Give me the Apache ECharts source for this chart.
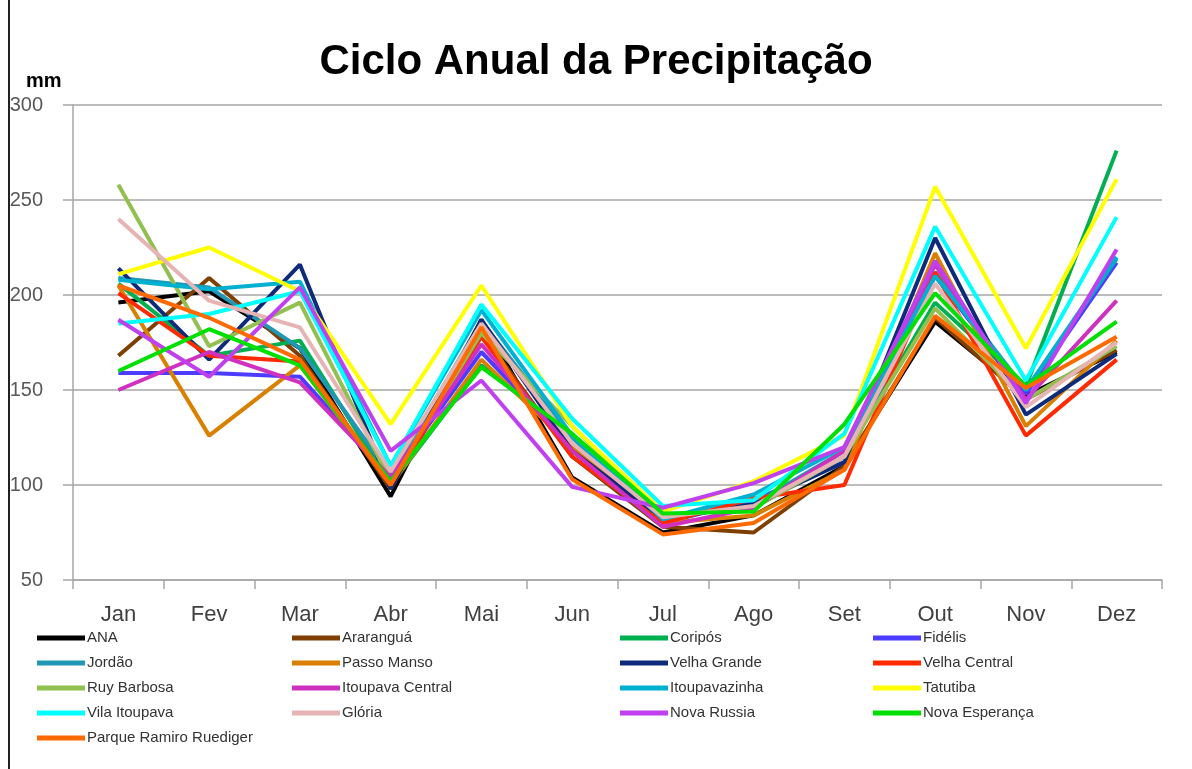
<!DOCTYPE html>
<html>
<head>
<meta charset="utf-8">
<script src="https://cdn.jsdelivr.net/npm/echarts@6/dist/echarts.min.js"></script>
<style>
  html, body { margin: 0; padding: 0; background: #fff; }
  #chart { width: 1192px; height: 769px; }
</style>
</head>
<body>
<div id="chart"></div>
<script>
// meses
var months = ['Jan', 'Fev', 'Mar', 'Abr', 'Mai', 'Jun', 'Jul', 'Ago', 'Set', 'Out', 'Nov', 'Dez'];
var yTicks = [50, 100, 150, 200, 250, 300];

// precipitação mensal (mm) por estação
var ana             = [196, 202, 172,  94, 187, 104, 75, 84, 110, 186, 147, 170];
var ararangua       = [168, 209, 168,  98, 180, 115, 78, 75, 110, 188, 145, 171];
var coripos         = [206, 168, 176, 100, 163, 125, 84, 88, 115, 196, 152, 276];
var fidelis         = [159, 159, 157, 104, 170, 120, 80, 92, 112, 210, 148, 217];
var jordao          = [209, 204, 172, 105, 186, 125, 82, 90, 118, 212, 150, 219];
var passoManso      = [205, 126, 163, 100, 166, 120, 80, 84, 108, 222, 131, 176];
var velhaGrande     = [214, 166, 216,  98, 187, 118, 82, 90, 112, 230, 137, 169];
var velhaCentral    = [201, 168, 165, 100, 178, 115, 80, 93, 100, 212, 126, 166];
var ruyBarbosa      = [258, 173, 196, 102, 180, 131, 84, 88, 115, 193, 145, 173];
var itoupavaCentral = [150, 170, 154, 104, 174, 118, 78, 88, 118, 216, 145, 197];
var itoupavazinha   = [208, 203, 207, 110, 192, 126, 82, 95, 120, 210, 150, 220];
var tatutiba        = [211, 225, 202, 132, 205, 131, 86, 102, 126, 257, 172, 261];
var vilaItoupava    = [185, 190, 202, 110, 195, 135, 89, 92, 127, 236, 155, 241];
var gloria          = [240, 197, 183, 107, 185, 122, 83, 89, 115, 206, 141, 175];
var novaRussia      = [187, 157, 204, 118, 155,  99, 88, 101, 120, 218, 143, 224];
var novaEsperanca   = [160, 182, 163, 102, 162, 127, 85, 86, 132, 201, 152, 186];
var parqueRamiro    = [205, 188, 166, 100, 183, 103, 74, 80, 108, 189, 151, 178];

var estacoes = [
  { name: 'ANA', data: ana, color: '#000000' },
  { name: 'Araranguá', data: ararangua, color: '#7f3f00' },
  { name: 'Coripós', data: coripos, color: '#00b050' },
  { name: 'Fidélis', data: fidelis, color: '#4b3cff' },
  { name: 'Jordão', data: jordao, color: '#1f97b5' },
  { name: 'Passo Manso', data: passoManso, color: '#d98000' },
  { name: 'Velha Grande', data: velhaGrande, color: '#0e2a7a' },
  { name: 'Velha Central', data: velhaCentral, color: '#ff2a00' },
  { name: 'Ruy Barbosa', data: ruyBarbosa, color: '#92c050' },
  { name: 'Itoupava Central', data: itoupavaCentral, color: '#d030c0' },
  { name: 'Itoupavazinha', data: itoupavazinha, color: '#00b0d0' },
  { name: 'Tatutiba', data: tatutiba, color: '#ffff00' },
  { name: 'Vila Itoupava', data: vilaItoupava, color: '#00ffff' },
  { name: 'Glória', data: gloria, color: '#e6b4b4' },
  { name: 'Nova Russia', data: novaRussia, color: '#c040f0' },
  { name: 'Nova Esperança', data: novaEsperanca, color: '#00e000' },
  { name: 'Parque Ramiro Ruediger', data: parqueRamiro, color: '#ff6a00' }
];

var chart = echarts.init(document.getElementById('chart'));

// legenda em 4 colunas (ordem por linhas como no Excel)
var legendCols = [[], [], [], []];
estacoes.forEach(function (s, i) { legendCols[i % 4].push(s.name); });
var legendLeft = [37, 292, 620, 873];

var option = {
  backgroundColor: '#fff',
  animation: false,
  title: {
    text: 'Ciclo Anual da Precipitação',
    left: 'center',
    top: 36,
    textStyle: { fontFamily: 'Liberation Sans, Arial', fontSize: 42, fontWeight: 'bold', color: '#000' }
  },
  graphic: [
    { type: 'line', shape: { x1: 9, y1: 0, x2: 9, y2: 769 }, style: { stroke: '#222', lineWidth: 2 } },
    { type: 'text', left: 26, top: 71, style: { text: 'mm', font: 'bold 20px Liberation Sans, Arial', fill: '#000' } }
  ],
  legend: legendCols.map(function (col, i) {
    return {
      data: col,
      orient: 'vertical',
      left: legendLeft[i],
      top: 630,
      padding: 0,
      icon: 'rect',
      itemWidth: 48,
      itemHeight: 5,
      itemGap: 9,
      textStyle: { fontFamily: 'Liberation Sans, Arial', fontSize: 15, lineHeight: 16, color: '#333', padding: [0, 0, 0, -3] }
    };
  }),
  grid: { left: 73, right: 30, top: 105, bottom: 189 },
  xAxis: {
    type: 'category',
    data: months,
    boundaryGap: true,
    axisLine: { lineStyle: { color: '#a6a6a6', width: 1.5 } },
    axisTick: { show: true, length: 9, lineStyle: { color: '#a6a6a6', width: 1.5 } },
    axisLabel: { fontFamily: 'Liberation Sans, Arial', fontSize: 22, color: '#404040', margin: 24 }
  },
  yAxis: {
    type: 'value',
    min: yTicks[0],
    max: yTicks[yTicks.length - 1],
    interval: 50,
    axisLine: { show: true, lineStyle: { color: '#a6a6a6', width: 1.5 } },
    axisTick: { show: true, length: 10, lineStyle: { color: '#a6a6a6', width: 1.5 } },
    axisLabel: { fontFamily: 'Liberation Sans, Arial', fontSize: 20, color: '#595959', margin: 30 },
    splitLine: { lineStyle: { color: '#a6a6a6', width: 1.5 } }
  },
  series: estacoes.map(function (s) {
    return {
      name: s.name,
      type: 'line',
      data: s.data,
      symbol: 'none',
      color: s.color,
      lineStyle: { width: 4, color: s.color },
      emphasis: { disabled: true }
    };
  })
};

chart.setOption(option);
</script>
</body>
</html>
